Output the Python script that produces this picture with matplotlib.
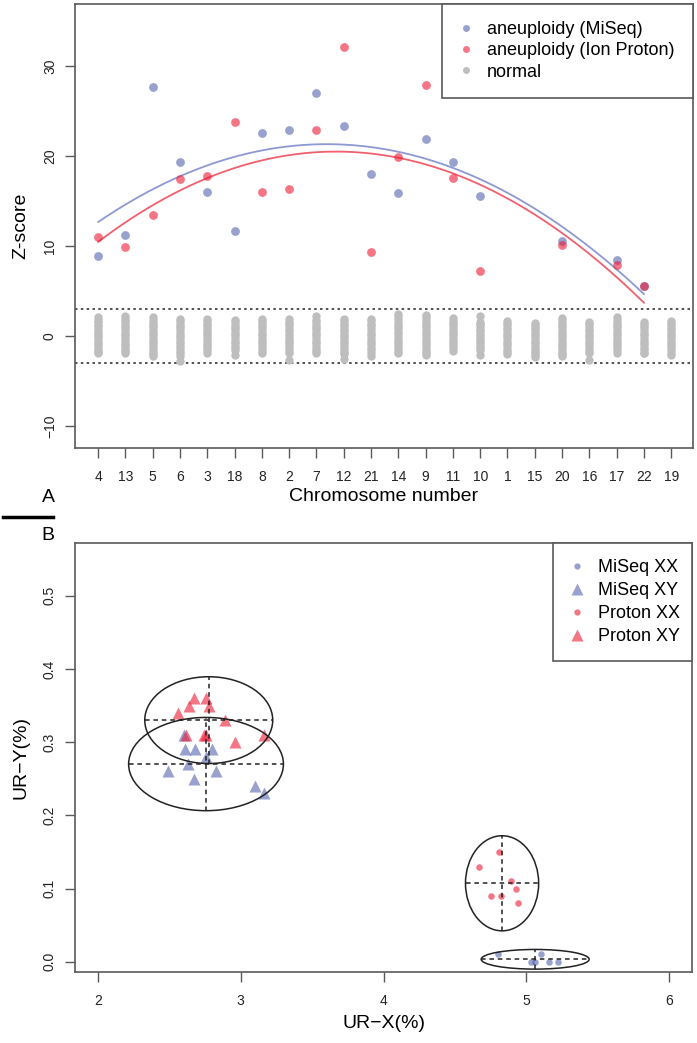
import numpy as np
import matplotlib
matplotlib.use("Agg")
import matplotlib.pyplot as plt
from matplotlib.patches import Ellipse
from matplotlib.lines import Line2D

plt.rcParams['font.family'] = ['Liberation Sans', 'DejaVu Sans']

# ---- panel A data ----
chroms = ['4', '13', '5', '6', '3', '18', '8', '2', '7', '12', '21',
          '14', '9', '11', '10', '1', '15', '20', '16', '17', '22', '19']
nan = np.nan
miseq_z = [8.9, 11.3, 27.7, 19.4, 16.0, 11.7, 22.6, 22.9, 27.0, 23.3, 18.0,
           15.9, 21.9, 19.4, 15.6, nan, nan, 10.6, nan, 8.5, 5.6, nan]
proton_z = [11.0, 9.9, 13.5, 17.5, 17.8, 23.8, 16.0, 16.4, 22.9, 32.1, 9.4,
            19.9, 27.9, 17.6, 7.3, nan, nan, 10.1, nan, 7.9, 5.6, nan]

normal_z = [
    [2.1, 1.8, 1.6, 1.3, 1.1, 0.8, 0.5, 0.3, 0.0, -0.2, -0.5, -0.7, -1.0, -1.3, -1.5, -1.7, -1.9],
    [2.2, 1.9, 1.7, 1.4, 1.1, 0.9, 0.6, 0.3, 0.1, -0.2, -0.4, -0.7, -1.0, -1.2, -1.5, -1.6, -1.9],
    [2.1, 1.8, 1.5, 1.3, 1.0, 0.7, 0.4, 0.2, -0.1, -0.4, -0.6, -0.9, -1.2, -1.5, -1.7, -2.0, -2.2],
    [1.9, 1.7, 1.4, 1.1, 0.9, 0.6, 0.3, 0.0, -0.2, -0.5, -0.8, -1.1, -1.3, -1.6, -1.9, -2.2, -2.7],
    [1.9, 1.7, 1.4, 1.2, 0.9, 0.6, 0.4, 0.1, -0.2, -0.4, -0.7, -1.0, -1.2, -1.5, -1.8],
    [1.8, 1.6, 1.3, 1.0, 0.8, 0.5, 0.2, 0.0, -0.3, -0.6, -0.8, -1.1, -1.3, -1.5, -2.1],
    [1.9, 1.7, 1.4, 1.1, 0.9, 0.6, 0.3, 0.1, -0.2, -0.5, -0.7, -1.0, -1.3, -1.6, -1.9],
    [1.9, 1.6, 1.4, 1.1, 0.8, 0.6, 0.3, 0.0, -0.3, -0.5, -0.8, -1.0, -1.3, -1.6, -1.8, -2.6],
    [2.2, 1.8, 1.6, 1.3, 1.0, 0.8, 0.5, 0.2, 0.0, -0.3, -0.6, -0.8, -1.1, -1.4, -1.6, -1.9],
    [1.9, 1.7, 1.4, 1.1, 0.8, 0.6, 0.3, 0.0, -0.2, -0.5, -0.8, -1.1, -1.3, -1.6, -1.8, -2.0, -2.5],
    [1.9, 1.7, 1.4, 1.2, 0.9, 0.6, 0.3, 0.1, -0.2, -0.5, -0.7, -1.0, -1.3, -1.5, -1.8, -2.2],
    [2.5, 2.2, 1.9, 1.6, 1.3, 1.0, 0.8, 0.5, 0.2, -0.1, -0.4, -0.6, -0.9, -1.2, -1.4, -1.7, -1.9],
    [2.4, 2.1, 1.8, 1.5, 1.2, 1.0, 0.7, 0.4, 0.1, -0.2, -0.5, -0.7, -1.0, -1.3, -1.6, -1.9, -2.1],
    [2.0, 1.7, 1.5, 1.2, 0.9, 0.6, 0.4, 0.1, -0.2, -0.5, -0.7, -1.0, -1.3, -1.6],
    [2.2, 1.6, 1.4, 1.1, 0.8, 0.6, 0.3, 0.0, -0.3, -0.5, -0.8, -1.1, -1.3, -1.5, -2.1],
    [1.7, 1.5, 1.2, 0.9, 0.7, 0.4, 0.1, -0.1, -0.4, -0.7, -0.9, -1.2, -1.5, -1.7, -2.0],
    [1.5, 1.3, 1.0, 0.8, 0.5, 0.2, 0.0, -0.3, -0.6, -0.8, -1.1, -1.4, -1.6, -1.9, -2.1, -2.3],
    [2.0, 1.8, 1.5, 1.2, 1.0, 0.7, 0.4, 0.1, -0.1, -0.4, -0.7, -1.0, -1.2, -1.5, -1.8, -2.0, -2.2],
    [1.6, 1.4, 1.1, 0.8, 0.6, 0.3, 0.0, -0.2, -0.5, -0.8, -1.0, -1.3, -1.6, -1.8, -2.6],
    [2.1, 1.8, 1.5, 1.3, 1.0, 0.7, 0.4, 0.2, -0.1, -0.4, -0.7, -0.9, -1.2, -1.5, -1.8],
    [1.6, 1.4, 1.1, 0.9, 0.6, 0.3, 0.1, -0.2, -0.5, -0.7, -1.0, -1.3, -1.5, -1.8, -1.9],
    [1.7, 1.5, 1.2, 0.9, 0.7, 0.4, 0.1, -0.1, -0.4, -0.7, -0.9, -1.2, -1.5, -1.8, -2.1],
]
z_cut = 3

# ---- panel B data ----
miseq_xx_x = [4.80, 5.03, 5.06, 5.10, 5.16, 5.22]
miseq_xx_y = [0.01, 0.00, 0.00, 0.01, 0.00, 0.00]
miseq_xy_x = [2.60, 2.61, 2.68, 2.80, 2.76, 2.63, 2.49, 2.83, 2.67, 3.10, 3.16]
miseq_xy_y = [0.31, 0.29, 0.29, 0.29, 0.28, 0.27, 0.26, 0.26, 0.25, 0.24, 0.23]
proton_xx_x = [4.81, 4.67, 4.89, 4.93, 4.75, 4.82, 4.94]
proton_xx_y = [0.15, 0.13, 0.11, 0.10, 0.09, 0.09, 0.08]
proton_xy_x = [2.67, 2.76, 2.64, 2.78, 2.56, 2.89, 2.62, 2.74, 2.76, 2.96, 3.16]
proton_xy_y = [0.36, 0.36, 0.35, 0.35, 0.34, 0.33, 0.31, 0.31, 0.31, 0.30, 0.31]

blue = (0.27, 0.33, 0.66, 0.55)
red = (0.93, 0.10, 0.20, 0.60)
gray = '#BEBEBE'
blue_line = '#8E98D2'
red_line = '#F0606E'
frame = '#5a5a5a'

fig = plt.figure(figsize=(6.97, 10.43), dpi=100)

# ---------------- panel A ----------------
ax = fig.add_axes([0.1076, 0.5705, 0.8867, 0.4257])
xi = np.arange(len(chroms))
for i, vals in enumerate(normal_z):
    ax.scatter(np.full(len(vals), i), vals, s=36, color=gray, lw=0, zorder=2)

ax.axhline(z_cut, color='#333333', ls=(0, (1.5, 2)), lw=1.2, zorder=1)
ax.axhline(-z_cut, color='#333333', ls=(0, (1.5, 2)), lw=1.2, zorder=1)

for z, col, lcol in [(miseq_z, blue, blue_line), (proton_z, red, red_line)]:
    z = np.array(z)
    ok = ~np.isnan(z)
    coef = np.polyfit(xi[ok], z[ok], 2)
    xs = np.linspace(xi[ok].min(), xi[ok].max(), 200)
    ax.plot(xs, np.polyval(coef, xs), color=lcol, lw=1.3, zorder=3)
    ax.scatter(xi[ok], z[ok], s=40, color=col, lw=0, zorder=4)

ax.set_xlim(-0.85, 21.8)
ax.set_ylim(-12.4, 36.9)
ax.set_xticks(xi)
ax.set_xticklabels(chroms)
ax.set_yticks([-10, 0, 10, 20, 30])
for lab in ax.get_yticklabels():
    lab.set_rotation(90)
    lab.set_va('center')
ax.tick_params(axis='both', labelsize=10, length=7, color=frame, labelcolor='#222222', width=1)
ax.tick_params(axis='x', pad=9)
ax.tick_params(axis='y', pad=6)
for sp in ax.spines.values():
    sp.set_color(frame)
    sp.set_linewidth(1.2)
ax.set_xlabel('Chromosome number', fontsize=14, labelpad=3)
ax.set_ylabel('Z-score', fontsize=14, labelpad=10)

handles = [Line2D([], [], ls='', marker='o', ms=5, mfc=blue, mec='none'),
           Line2D([], [], ls='', marker='o', ms=5, mfc=red, mec='none'),
           Line2D([], [], ls='', marker='o', ms=5, mfc=gray, mec='none')]
leg = ax.legend(handles, ['aneuploidy (MiSeq)', 'aneuploidy (Ion Proton)', 'normal'],
                loc='upper right', bbox_to_anchor=(0.594, 0.0, 0.406, 1.0), mode='expand',
                borderaxespad=0, fancybox=False, edgecolor=frame, framealpha=1,
                fontsize=13, handlelength=0.8, handletextpad=0.75, labelspacing=0.24,
                borderpad=0.95)
leg.get_frame().set_linewidth(1.2)

# ---------------- panel B ----------------
bx = fig.add_axes([0.1076, 0.0681, 0.8853, 0.4113])
k = 2.6
groups = [
    (miseq_xx_x, miseq_xx_y, blue, 'o', 22, 'MiSeq XX'),
    (miseq_xy_x, miseq_xy_y, blue, '^', 75, 'MiSeq XY'),
    (proton_xx_x, proton_xx_y, red, 'o', 22, 'Proton XX'),
    (proton_xy_x, proton_xy_y, red, '^', 75, 'Proton XY'),
]
for gx, gy, col, mk, sz, name in groups:
    gx = np.array(gx)
    gy = np.array(gy)
    bx.scatter(gx, gy, s=sz, marker=mk, color=col, lw=0, zorder=3)
    mx, my = gx.mean(), gy.mean()
    hw, hh = k * gx.std(ddof=1), k * gy.std(ddof=1)
    bx.add_patch(Ellipse((mx, my), 2 * hw, 2 * hh, fill=False, ec='#222222', lw=1.1, zorder=4))
    bx.plot([mx - hw, mx + hw], [my, my], color='#222222', ls=(0, (3, 2.5)), lw=1.1, zorder=4)
    bx.plot([mx, mx], [my - hh, my + hh], color='#222222', ls=(0, (3, 2.5)), lw=1.1, zorder=4)

bx.set_xlim(1.84, 6.16)
bx.set_ylim(-0.014, 0.572)
bx.set_xticks([2, 3, 4, 5, 6])
bx.set_yticks([0.0, 0.1, 0.2, 0.3, 0.4, 0.5])
bx.set_yticklabels(['0.0', '0.1', '0.2', '0.3', '0.4', '0.5'])
for lab in bx.get_yticklabels():
    lab.set_rotation(90)
    lab.set_va('center')
bx.tick_params(axis='both', labelsize=10, length=7, color=frame, labelcolor='#222222', width=1)
bx.tick_params(axis='x', pad=9)
bx.tick_params(axis='y', pad=6)
for sp in bx.spines.values():
    sp.set_color(frame)
    sp.set_linewidth(1.2)
bx.set_xlabel('UR\u2212X(%)', fontsize=14, labelpad=5)
bx.set_ylabel('UR\u2212Y(%)', fontsize=14, labelpad=10)

handles_b = [Line2D([], [], ls='', marker='o', ms=4.5, mfc=blue, mec='none'),
             Line2D([], [], ls='', marker='^', ms=8, mfc=blue, mec='none'),
             Line2D([], [], ls='', marker='o', ms=4.5, mfc=red, mec='none'),
             Line2D([], [], ls='', marker='^', ms=8, mfc=red, mec='none')]
leg_b = bx.legend(handles_b, ['MiSeq XX', 'MiSeq XY', 'Proton XX', 'Proton XY'],
                  loc='upper right', bbox_to_anchor=(0.775, 0.0, 0.225, 1.0), mode='expand',
                  borderaxespad=0, fancybox=False, edgecolor=frame, framealpha=1,
                  fontsize=13, handlelength=0.8, handletextpad=0.8, labelspacing=0.33,
                  borderpad=0.9)
leg_b.get_frame().set_linewidth(1.2)

# panel letters
fig.text(48 / 697, 1 - 497 / 1043, 'A', fontsize=14, ha='center', va='center')
fig.add_artist(Line2D([3 / 697, 53 / 697], [1 - 517 / 1043, 1 - 517 / 1043],
                      color='black', lw=2.5))
fig.text(48 / 697, 1 - 536 / 1043, 'B', fontsize=14, ha='center', va='center')

fig.savefig('out.png', dpi=100)
